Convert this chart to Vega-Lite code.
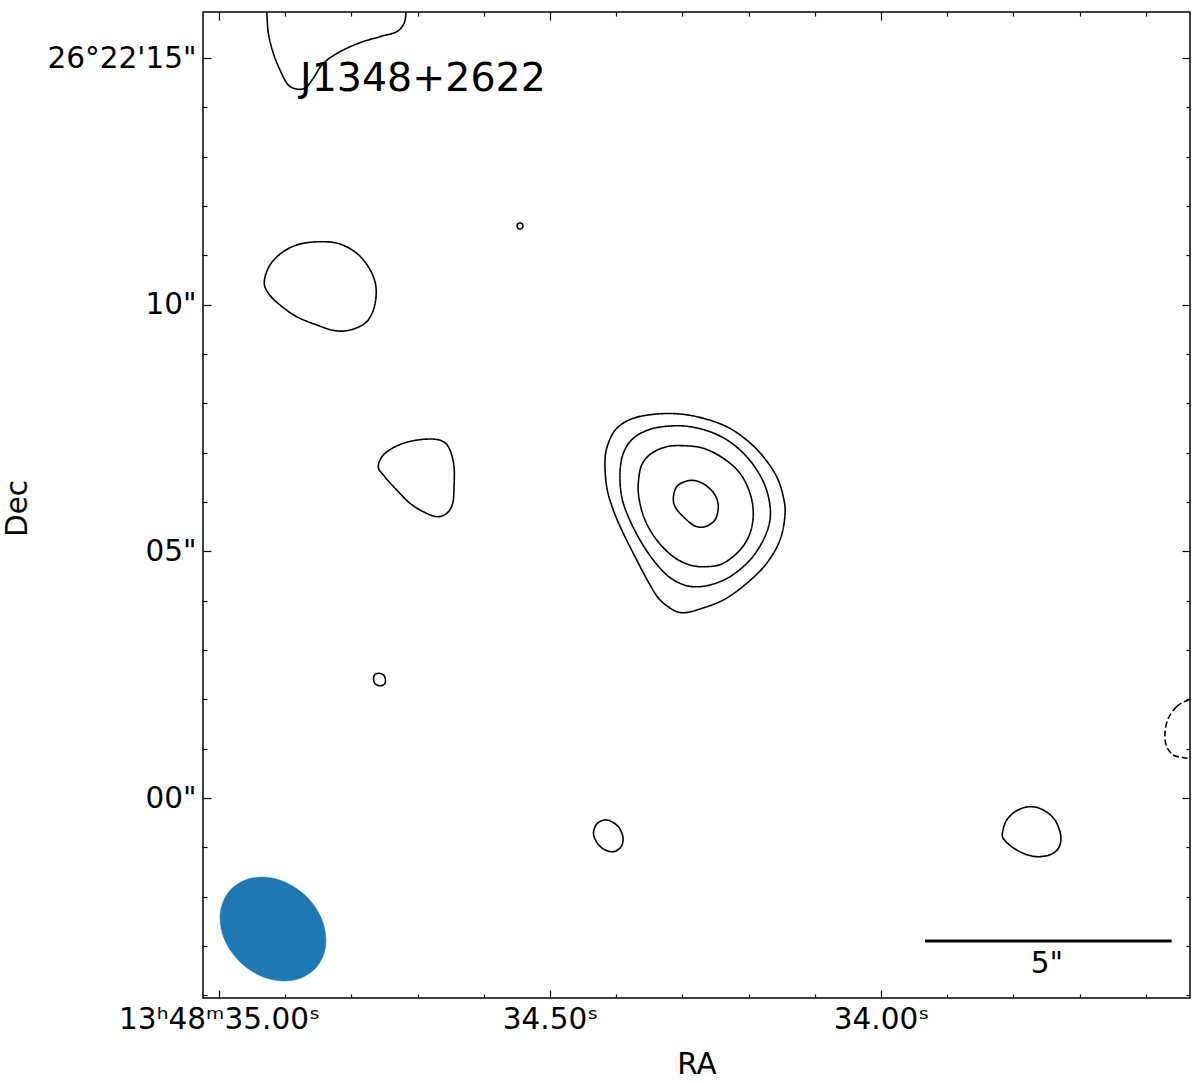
{
  "$schema": "https://vega.github.io/schema/vega-lite/v6.json",
  "width": 987,
  "height": 986,
  "autosize": {"type": "none"},
  "padding": {"left": 203, "top": 12, "right": 10, "bottom": 85},
  "background": "white",
  "config": {
    "view": {"stroke": "black", "strokeWidth": 1.5},
    "font": "DejaVu Sans"
  },
  "datasets": {
    "contours": [
      {"c":"A","i":1,"ra":34.9279,"dec":15.927,"s":"pos"},
      {"c":"A","i":2,"ra":34.9255,"dec":15.502,"s":"pos"},
      {"c":"A","i":3,"ra":34.9180,"dec":15.096,"s":"pos"},
      {"c":"A","i":4,"ra":34.9079,"dec":14.758,"s":"pos"},
      {"c":"A","i":5,"ra":34.8953,"dec":14.454,"s":"pos"},
      {"c":"A","i":6,"ra":34.8802,"dec":14.366,"s":"pos"},
      {"c":"A","i":7,"ra":34.8686,"dec":14.407,"s":"pos"},
      {"c":"A","i":8,"ra":34.8576,"dec":14.590,"s":"pos"},
      {"c":"A","i":9,"ra":34.8424,"dec":14.894,"s":"pos"},
      {"c":"A","i":10,"ra":34.8172,"dec":15.129,"s":"pos"},
      {"c":"A","i":11,"ra":34.7870,"dec":15.311,"s":"pos"},
      {"c":"A","i":12,"ra":34.7568,"dec":15.433,"s":"pos"},
      {"c":"A","i":13,"ra":34.7316,"dec":15.534,"s":"pos"},
      {"c":"A","i":14,"ra":34.7205,"dec":15.704,"s":"pos"},
      {"c":"A","i":15,"ra":34.7175,"dec":15.927,"s":"pos"},
      {"c":"A","i":16,"ra":34.7160,"dec":16.278,"s":"pos"},
      {"c":"A","i":17,"ra":34.8248,"dec":16.582,"s":"pos"},
      {"c":"A","i":18,"ra":34.9305,"dec":16.278,"s":"pos"},

      {"c":"B","i":1,"ra":34.9316,"dec":10.466,"s":"pos"},
      {"c":"B","i":2,"ra":34.9230,"dec":10.805,"s":"pos"},
      {"c":"B","i":3,"ra":34.9029,"dec":11.074,"s":"pos"},
      {"c":"B","i":4,"ra":34.8776,"dec":11.230,"s":"pos"},
      {"c":"B","i":5,"ra":34.8449,"dec":11.277,"s":"pos"},
      {"c":"B","i":6,"ra":34.8172,"dec":11.230,"s":"pos"},
      {"c":"B","i":7,"ra":34.7920,"dec":11.042,"s":"pos"},
      {"c":"B","i":8,"ra":34.7745,"dec":10.770,"s":"pos"},
      {"c":"B","i":9,"ra":34.7644,"dec":10.466,"s":"pos"},
      {"c":"B","i":10,"ra":34.7628,"dec":10.162,"s":"pos"},
      {"c":"B","i":11,"ra":34.7678,"dec":9.858,"s":"pos"},
      {"c":"B","i":12,"ra":34.7795,"dec":9.623,"s":"pos"},
      {"c":"B","i":13,"ra":34.8021,"dec":9.487,"s":"pos"},
      {"c":"B","i":14,"ra":34.8248,"dec":9.473,"s":"pos"},
      {"c":"B","i":15,"ra":34.8524,"dec":9.589,"s":"pos"},
      {"c":"B","i":16,"ra":34.8826,"dec":9.757,"s":"pos"},
      {"c":"B","i":17,"ra":34.9079,"dec":9.994,"s":"pos"},
      {"c":"B","i":18,"ra":34.9255,"dec":10.231,"s":"pos"},

      {"c":"C","i":1,"ra":34.7594,"dec":6.716,"s":"pos"},
      {"c":"C","i":2,"ra":34.7518,"dec":6.953,"s":"pos"},
      {"c":"C","i":3,"ra":34.7316,"dec":7.136,"s":"pos"},
      {"c":"C","i":4,"ra":34.7065,"dec":7.243,"s":"pos"},
      {"c":"C","i":5,"ra":34.6787,"dec":7.277,"s":"pos"},
      {"c":"C","i":6,"ra":34.6612,"dec":7.223,"s":"pos"},
      {"c":"C","i":7,"ra":34.6511,"dec":7.055,"s":"pos"},
      {"c":"C","i":8,"ra":34.6450,"dec":6.716,"s":"pos"},
      {"c":"C","i":9,"ra":34.6450,"dec":6.311,"s":"pos"},
      {"c":"C","i":10,"ra":34.6470,"dec":5.974,"s":"pos"},
      {"c":"C","i":11,"ra":34.6560,"dec":5.771,"s":"pos"},
      {"c":"C","i":12,"ra":34.6712,"dec":5.702,"s":"pos"},
      {"c":"C","i":13,"ra":34.6914,"dec":5.804,"s":"pos"},
      {"c":"C","i":14,"ra":34.7115,"dec":5.974,"s":"pos"},
      {"c":"C","i":15,"ra":34.7316,"dec":6.244,"s":"pos"},
      {"c":"C","i":16,"ra":34.7518,"dec":6.548,"s":"pos"},

      {"c":"D","i":1,"ra":34.5408,"dec":11.595,"s":"pos"},
      {"c":"D","i":2,"ra":34.5421,"dec":11.553,"s":"pos"},
      {"c":"D","i":3,"ra":34.5453,"dec":11.534,"s":"pos"},
      {"c":"D","i":4,"ra":34.5485,"dec":11.553,"s":"pos"},
      {"c":"D","i":5,"ra":34.5498,"dec":11.595,"s":"pos"},
      {"c":"D","i":6,"ra":34.5485,"dec":11.638,"s":"pos"},
      {"c":"D","i":7,"ra":34.5453,"dec":11.656,"s":"pos"},
      {"c":"D","i":8,"ra":34.5421,"dec":11.638,"s":"pos"},

      {"c":"E1","i":1,"ra":34.4169,"dec":6.852,"s":"pos"},
      {"c":"E1","i":2,"ra":34.4119,"dec":7.190,"s":"pos"},
      {"c":"E1","i":3,"ra":34.3992,"dec":7.494,"s":"pos"},
      {"c":"E1","i":4,"ra":34.3742,"dec":7.697,"s":"pos"},
      {"c":"E1","i":5,"ra":34.3388,"dec":7.784,"s":"pos"},
      {"c":"E1","i":6,"ra":34.3036,"dec":7.784,"s":"pos"},
      {"c":"E1","i":7,"ra":34.2684,"dec":7.697,"s":"pos"},
      {"c":"E1","i":8,"ra":34.2331,"dec":7.527,"s":"pos"},
      {"c":"E1","i":9,"ra":34.2029,"dec":7.257,"s":"pos"},
      {"c":"E1","i":10,"ra":34.1778,"dec":6.919,"s":"pos"},
      {"c":"E1","i":11,"ra":34.1576,"dec":6.513,"s":"pos"},
      {"c":"E1","i":12,"ra":34.1476,"dec":6.108,"s":"pos"},
      {"c":"E1","i":13,"ra":34.1450,"dec":5.737,"s":"pos"},
      {"c":"E1","i":14,"ra":34.1526,"dec":5.230,"s":"pos"},
      {"c":"E1","i":15,"ra":34.1727,"dec":4.758,"s":"pos"},
      {"c":"E1","i":16,"ra":34.2029,"dec":4.352,"s":"pos"},
      {"c":"E1","i":17,"ra":34.2382,"dec":4.014,"s":"pos"},
      {"c":"E1","i":18,"ra":34.2784,"dec":3.811,"s":"pos"},
      {"c":"E1","i":19,"ra":34.2986,"dec":3.756,"s":"pos"},
      {"c":"E1","i":20,"ra":34.3137,"dec":3.811,"s":"pos"},
      {"c":"E1","i":21,"ra":34.3338,"dec":4.014,"s":"pos"},
      {"c":"E1","i":22,"ra":34.3489,"dec":4.318,"s":"pos"},
      {"c":"E1","i":23,"ra":34.3690,"dec":4.825,"s":"pos"},
      {"c":"E1","i":24,"ra":34.3893,"dec":5.366,"s":"pos"},
      {"c":"E1","i":25,"ra":34.4044,"dec":5.838,"s":"pos"},
      {"c":"E1","i":26,"ra":34.4144,"dec":6.311,"s":"pos"},

      {"c":"E2","i":1,"ra":34.3943,"dec":6.582,"s":"pos"},
      {"c":"E2","i":2,"ra":34.3893,"dec":6.988,"s":"pos"},
      {"c":"E2","i":3,"ra":34.3742,"dec":7.292,"s":"pos"},
      {"c":"E2","i":4,"ra":34.3489,"dec":7.474,"s":"pos"},
      {"c":"E2","i":5,"ra":34.3187,"dec":7.541,"s":"pos"},
      {"c":"E2","i":6,"ra":34.2885,"dec":7.527,"s":"pos"},
      {"c":"E2","i":7,"ra":34.2533,"dec":7.400,"s":"pos"},
      {"c":"E2","i":8,"ra":34.2231,"dec":7.170,"s":"pos"},
      {"c":"E2","i":9,"ra":34.1979,"dec":6.840,"s":"pos"},
      {"c":"E2","i":10,"ra":34.1790,"dec":6.446,"s":"pos"},
      {"c":"E2","i":11,"ra":34.1690,"dec":6.041,"s":"pos"},
      {"c":"E2","i":12,"ra":34.1677,"dec":5.635,"s":"pos"},
      {"c":"E2","i":13,"ra":34.1778,"dec":5.230,"s":"pos"},
      {"c":"E2","i":14,"ra":34.1979,"dec":4.825,"s":"pos"},
      {"c":"E2","i":15,"ra":34.2281,"dec":4.486,"s":"pos"},
      {"c":"E2","i":16,"ra":34.2583,"dec":4.318,"s":"pos"},
      {"c":"E2","i":17,"ra":34.2835,"dec":4.283,"s":"pos"},
      {"c":"E2","i":18,"ra":34.3036,"dec":4.352,"s":"pos"},
      {"c":"E2","i":19,"ra":34.3237,"dec":4.521,"s":"pos"},
      {"c":"E2","i":20,"ra":34.3440,"dec":4.825,"s":"pos"},
      {"c":"E2","i":21,"ra":34.3641,"dec":5.230,"s":"pos"},
      {"c":"E2","i":22,"ra":34.3817,"dec":5.702,"s":"pos"},
      {"c":"E2","i":23,"ra":34.3917,"dec":6.108,"s":"pos"},

      {"c":"E3","i":1,"ra":34.3666,"dec":6.379,"s":"pos"},
      {"c":"E3","i":2,"ra":34.3615,"dec":6.750,"s":"pos"},
      {"c":"E3","i":3,"ra":34.3464,"dec":6.988,"s":"pos"},
      {"c":"E3","i":4,"ra":34.3237,"dec":7.121,"s":"pos"},
      {"c":"E3","i":5,"ra":34.2986,"dec":7.142,"s":"pos"},
      {"c":"E3","i":6,"ra":34.2684,"dec":7.089,"s":"pos"},
      {"c":"E3","i":7,"ra":34.2382,"dec":6.886,"s":"pos"},
      {"c":"E3","i":8,"ra":34.2130,"dec":6.582,"s":"pos"},
      {"c":"E3","i":9,"ra":34.1979,"dec":6.177,"s":"pos"},
      {"c":"E3","i":10,"ra":34.1929,"dec":5.771,"s":"pos"},
      {"c":"E3","i":11,"ra":34.1979,"dec":5.366,"s":"pos"},
      {"c":"E3","i":12,"ra":34.2130,"dec":5.027,"s":"pos"},
      {"c":"E3","i":13,"ra":34.2382,"dec":4.758,"s":"pos"},
      {"c":"E3","i":14,"ra":34.2633,"dec":4.689,"s":"pos"},
      {"c":"E3","i":15,"ra":34.2885,"dec":4.723,"s":"pos"},
      {"c":"E3","i":16,"ra":34.3137,"dec":4.892,"s":"pos"},
      {"c":"E3","i":17,"ra":34.3388,"dec":5.230,"s":"pos"},
      {"c":"E3","i":18,"ra":34.3565,"dec":5.635,"s":"pos"},
      {"c":"E3","i":19,"ra":34.3651,"dec":6.041,"s":"pos"},

      {"c":"E4","i":1,"ra":34.3137,"dec":6.075,"s":"pos"},
      {"c":"E4","i":2,"ra":34.3086,"dec":6.311,"s":"pos"},
      {"c":"E4","i":3,"ra":34.2935,"dec":6.426,"s":"pos"},
      {"c":"E4","i":4,"ra":34.2784,"dec":6.426,"s":"pos"},
      {"c":"E4","i":5,"ra":34.2633,"dec":6.325,"s":"pos"},
      {"c":"E4","i":6,"ra":34.2508,"dec":6.142,"s":"pos"},
      {"c":"E4","i":7,"ra":34.2458,"dec":5.905,"s":"pos"},
      {"c":"E4","i":8,"ra":34.2508,"dec":5.635,"s":"pos"},
      {"c":"E4","i":9,"ra":34.2659,"dec":5.500,"s":"pos"},
      {"c":"E4","i":10,"ra":34.2810,"dec":5.514,"s":"pos"},
      {"c":"E4","i":11,"ra":34.2961,"dec":5.670,"s":"pos"},
      {"c":"E4","i":12,"ra":34.3100,"dec":5.880,"s":"pos"},

      {"c":"F","i":1,"ra":34.7485,"dec":2.382,"s":"pos"},
      {"c":"F","i":2,"ra":34.7508,"dec":2.301,"s":"pos"},
      {"c":"F","i":3,"ra":34.7576,"dec":2.277,"s":"pos"},
      {"c":"F","i":4,"ra":34.7644,"dec":2.321,"s":"pos"},
      {"c":"F","i":5,"ra":34.7666,"dec":2.422,"s":"pos"},
      {"c":"F","i":6,"ra":34.7644,"dec":2.504,"s":"pos"},
      {"c":"F","i":7,"ra":34.7576,"dec":2.528,"s":"pos"},
      {"c":"F","i":8,"ra":34.7508,"dec":2.483,"s":"pos"},

      {"c":"G","i":1,"ra":34.4343,"dec":-0.710,"s":"pos"},
      {"c":"G","i":2,"ra":34.4305,"dec":-0.547,"s":"pos"},
      {"c":"G","i":3,"ra":34.4230,"dec":-0.466,"s":"pos"},
      {"c":"G","i":4,"ra":34.4139,"dec":-0.446,"s":"pos"},
      {"c":"G","i":5,"ra":34.4033,"dec":-0.507,"s":"pos"},
      {"c":"G","i":6,"ra":34.3943,"dec":-0.628,"s":"pos"},
      {"c":"G","i":7,"ra":34.3897,"dec":-0.811,"s":"pos"},
      {"c":"G","i":8,"ra":34.3920,"dec":-0.973,"s":"pos"},
      {"c":"G","i":9,"ra":34.4003,"dec":-1.074,"s":"pos"},
      {"c":"G","i":10,"ra":34.4094,"dec":-1.085,"s":"pos"},
      {"c":"G","i":11,"ra":34.4215,"dec":-1.014,"s":"pos"},
      {"c":"G","i":12,"ra":34.4305,"dec":-0.872,"s":"pos"},

      {"c":"H","i":1,"ra":33.8162,"dec":-0.683,"s":"pos"},
      {"c":"H","i":2,"ra":33.8101,"dec":-0.446,"s":"pos"},
      {"c":"H","i":3,"ra":33.7950,"dec":-0.257,"s":"pos"},
      {"c":"H","i":4,"ra":33.7749,"dec":-0.176,"s":"pos"},
      {"c":"H","i":5,"ra":33.7548,"dec":-0.243,"s":"pos"},
      {"c":"H","i":6,"ra":33.7372,"dec":-0.446,"s":"pos"},
      {"c":"H","i":7,"ra":33.7286,"dec":-0.750,"s":"pos"},
      {"c":"H","i":8,"ra":33.7307,"dec":-0.987,"s":"pos"},
      {"c":"H","i":9,"ra":33.7421,"dec":-1.135,"s":"pos"},
      {"c":"H","i":10,"ra":33.7624,"dec":-1.190,"s":"pos"},
      {"c":"H","i":11,"ra":33.7825,"dec":-1.135,"s":"pos"},
      {"c":"H","i":12,"ra":33.8026,"dec":-0.987,"s":"pos"},
      {"c":"H","i":13,"ra":33.8153,"dec":-0.817,"s":"pos"},

      {"c":"I","i":1,"ra":33.5382,"dec":1.972,"s":"neg"},
      {"c":"I","i":2,"ra":33.5533,"dec":1.851,"s":"neg"},
      {"c":"I","i":3,"ra":33.5660,"dec":1.616,"s":"neg"},
      {"c":"I","i":4,"ra":33.5710,"dec":1.312,"s":"neg"},
      {"c":"I","i":5,"ra":33.5684,"dec":1.040,"s":"neg"},
      {"c":"I","i":6,"ra":33.5585,"dec":0.872,"s":"neg"},
      {"c":"I","i":7,"ra":33.5458,"dec":0.825,"s":"neg"},
      {"c":"I","i":8,"ra":33.5358,"dec":0.805,"s":"neg"},
      {"c":"I","i":9,"ra":33.5181,"dec":0.811,"s":"neg"},
      {"c":"I","i":10,"ra":33.4955,"dec":1.378,"s":"neg"},
      {"c":"I","i":11,"ra":33.5181,"dec":2.027,"s":"neg"}
    ],
    "beam": [
      {"i":1,"ra":34.8539,"dec":-3.446},
      {"i":2,"ra":34.8863,"dec":-3.689},
      {"i":3,"ra":34.9273,"dec":-3.655},
      {"i":4,"ra":34.9659,"dec":-3.353},
      {"i":5,"ra":34.9918,"dec":-2.865},
      {"i":6,"ra":34.9980,"dec":-2.320},
      {"i":7,"ra":34.9829,"dec":-1.866},
      {"i":8,"ra":34.9505,"dec":-1.623},
      {"i":9,"ra":34.9096,"dec":-1.656},
      {"i":10,"ra":34.8710,"dec":-1.958},
      {"i":11,"ra":34.8451,"dec":-2.447},
      {"i":12,"ra":34.8389,"dec":-2.991}
    ],
    "bar": [
      {"ra1":33.9335,"ra2":33.5609,"dec":-2.899}
    ],
    "titleText": [
      {"t":"J1348+2622","ra":34.8776,"dec":14.575}
    ],
    "barText": [
      {"t":"5\"","ra":33.7492,"dec":-3.365}
    ]
  },
  "layer": [
    {
      "data": {"name": "contours"},
      "mark": {"type": "line", "interpolate": "cardinal-closed", "clip": true, "color": "black", "strokeWidth": 1.6},
      "encoding": {
        "x": {
          "field": "ra", "type": "quantitative",
          "scale": {"domain": [33.5332, 35.0242], "reverse": true, "nice": false, "zero": false},
          "axis": {
            "orient": "bottom",
            "values": [35.0,34.9,34.8,34.7,34.6,34.5,34.4,34.3,34.2,34.1,34.0,33.9,33.8,33.7,33.6],
            "labelExpr": "abs(datum.value-35)<0.001 ? '13ʰ48ᵐ35.00ˢ' : (abs(datum.value*2-round(datum.value*2))<0.001 ? format(datum.value,'.2f')+'ˢ' : '')",
            "tickSize": {"condition": {"test": "abs(datum.value*2-round(datum.value*2))<0.001", "value": -8}, "value": -4},
            "tickColor": "black", "tickWidth": 1.2,
            "domain": false, "grid": false,
            "labelFont": "DejaVu Sans", "labelFontSize": 29.5, "labelColor": "black", "labelPadding": 15,
            "labelFlush": false, "labelOverlap": false, "labelBound": false, "labelLimit": 0,
            "title": "RA", "titleFont": "DejaVu Sans", "titleFontSize": 29.5, "titleFontWeight": "normal", "titleColor": "black",
            "titleY": 66, "titleBaseline": "middle"
          }
        },
        "y": {
          "field": "dec", "type": "quantitative",
          "scale": {"domain": [-4.054, 15.933], "nice": false, "zero": false},
          "axis": {
            "orient": "left",
            "values": [-4,-3,-2,-1,0,1,2,3,4,5,6,7,8,9,10,11,12,13,14,15],
            "labelExpr": "datum.value==15 ? '26°22\\'15\"' : (datum.value%5==0 ? (datum.value<10?'0':'')+datum.value+'\"' : '')",
            "tickSize": {"condition": {"test": "datum.value%5==0", "value": -8}, "value": -4},
            "tickColor": "black", "tickWidth": 1.2,
            "domain": false, "grid": false,
            "labelFont": "DejaVu Sans", "labelFontSize": 29.5, "labelColor": "black", "labelPadding": 15,
            "labelFlush": false, "labelOverlap": false, "labelBound": false, "labelLimit": 0,
            "title": "Dec", "titleFont": "DejaVu Sans", "titleFontSize": 29.5, "titleFontWeight": "normal", "titleColor": "black",
            "titleX": -186, "titleY": 496, "titleBaseline": "middle", "titleAngle": -90, "titleAlign": "center"
          }
        },
        "detail": {"field": "c"},
        "order": {"field": "i", "type": "quantitative"},
        "strokeDash": {"field": "s", "type": "nominal", "scale": {"domain": ["pos", "neg"], "range": [[1, 0], [6, 3]]}, "legend": null}
      }
    },
    {
      "data": {"name": "beam"},
      "mark": {"type": "line", "interpolate": "cardinal-closed", "fill": "#1f77b4", "stroke": "#1f77b4", "strokeWidth": 0.5},
      "encoding": {
        "x": {
          "field": "ra", "type": "quantitative",
          "scale": {"domain": [33.5332, 35.0242], "reverse": true, "nice": false, "zero": false},
          "axis": {
            "orient": "top",
            "values": [35.0,34.9,34.8,34.7,34.6,34.5,34.4,34.3,34.2,34.1,34.0,33.9,33.8,33.7,33.6],
            "labels": false,
            "tickSize": {"condition": {"test": "abs(datum.value*2-round(datum.value*2))<0.001", "value": -8}, "value": -4},
            "tickColor": "black", "tickWidth": 1.2,
            "domain": false, "grid": false, "title": null
          }
        },
        "y": {
          "field": "dec", "type": "quantitative",
          "scale": {"domain": [-4.054, 15.933], "nice": false, "zero": false},
          "axis": {
            "orient": "right",
            "values": [-4,-3,-2,-1,0,1,2,3,4,5,6,7,8,9,10,11,12,13,14,15],
            "labels": false,
            "tickSize": {"condition": {"test": "datum.value%5==0", "value": -8}, "value": -4},
            "tickColor": "black", "tickWidth": 1.2,
            "domain": false, "grid": false, "title": null
          }
        },
        "order": {"field": "i", "type": "quantitative"}
      }
    },
    {
      "data": {"name": "bar"},
      "mark": {"type": "rule", "color": "black", "strokeWidth": 3},
      "encoding": {
        "x": {"field": "ra1", "type": "quantitative", "scale": {"domain": [33.5332, 35.0242], "reverse": true, "nice": false, "zero": false}, "axis": null},
        "x2": {"field": "ra2"},
        "y": {"field": "dec", "type": "quantitative", "scale": {"domain": [-4.054, 15.933], "nice": false, "zero": false}, "axis": null}
      }
    },
    {
      "data": {"name": "titleText"},
      "mark": {"type": "text", "font": "DejaVu Sans", "color": "black", "baseline": "middle", "align": "left", "fontSize": 39.5},
      "encoding": {
        "x": {"field": "ra", "type": "quantitative", "scale": {"domain": [33.5332, 35.0242], "reverse": true, "nice": false, "zero": false}, "axis": null},
        "y": {"field": "dec", "type": "quantitative", "scale": {"domain": [-4.054, 15.933], "nice": false, "zero": false}, "axis": null},
        "text": {"field": "t"}
      }
    },
    {
      "data": {"name": "barText"},
      "mark": {"type": "text", "font": "DejaVu Sans", "color": "black", "baseline": "middle", "align": "center", "fontSize": 29.5},
      "encoding": {
        "x": {"field": "ra", "type": "quantitative", "scale": {"domain": [33.5332, 35.0242], "reverse": true, "nice": false, "zero": false}, "axis": null},
        "y": {"field": "dec", "type": "quantitative", "scale": {"domain": [-4.054, 15.933], "nice": false, "zero": false}, "axis": null},
        "text": {"field": "t"}
      }
    }
  ],
  "resolve": {"axis": {"x": "independent", "y": "independent"}}
}
